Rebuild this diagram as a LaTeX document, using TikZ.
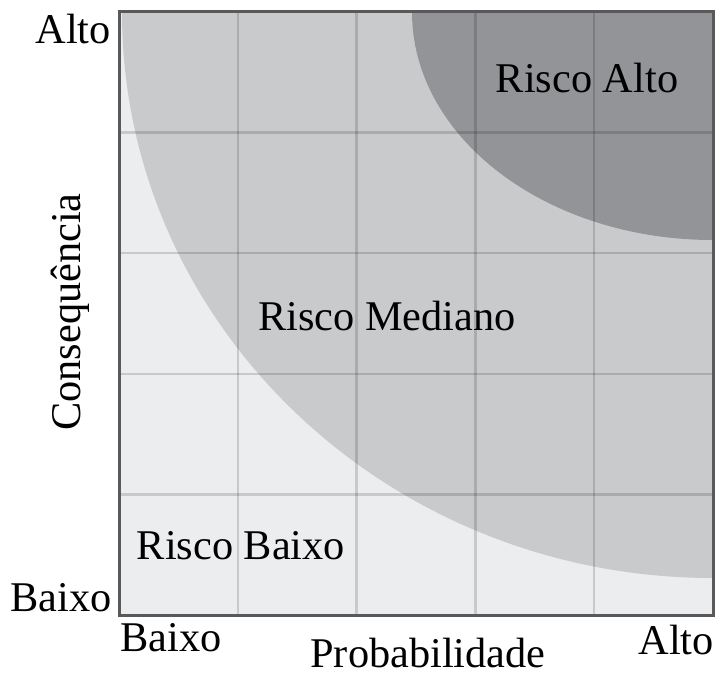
\documentclass[tikz,border=0pt]{standalone}
\usepackage{fontspec}
\setmainfont{Liberation Serif}
\definecolor{riscobaixo}{HTML}{ECEDEE}
\definecolor{riscomedio}{HTML}{C9CACC}
\definecolor{riscoalto}{HTML}{939497}
\definecolor{moldura}{HTML}{58595B}
\tikzset{
  rotulo/.style={font=\fontsize{42.5}{42.5}\selectfont, inner sep=0pt},
  grade/.style={black, opacity=0.15, line width=2.5bp}
}
\begin{document}
\begin{tikzpicture}[x=1bp,y=-1bp]
	\useasboundingbox (0,0) rectangle (720,675);
	% regioes de risco
	\begin{scope}
		\clip (119,12) rectangle (713,615);
		\fill[riscobaixo] (119,12) rectangle (713,615);
		\fill[riscomedio] (713,12) ellipse [x radius=591, y radius=566];
		\fill[riscoalto] (713,12) ellipse [x radius=301, y radius=228];
	\end{scope}
	% grade 5x5
	\foreach \i in {1,...,4}{
		\draw[grade] ({119+118.8*\i},12) -- ({119+118.8*\i},615);
		\draw[grade] (119,{12+120.6*\i}) -- (713,{12+120.6*\i});
	}
	\draw[moldura,line width=3bp] (119,12) rectangle (713,615);
	% eixos
	\node[rotulo,anchor=base east] (cAlto) at (111,44) {Alto};
	\node[rotulo,anchor=base east] (cBaixo) at (112,611) {Baixo};
	\node[rotulo,anchor=base west] (pBaixo) at (120,651) {Baixo};
	\node[rotulo,anchor=base east] (pAlto) at (714,654) {Alto};
	\node[rotulo,anchor=base] (prob) at (428,667) {Probabilidade};
	\node[rotulo,anchor=base,rotate=90] (cons) at (80,312) {Consequência};
	% zonas
	\node[rotulo,anchor=base] (rAlto) at (587,93) {Risco Alto};
	\node[rotulo,anchor=base] (rMediano) at (387,330) {Risco Mediano};
	\node[rotulo,anchor=base] (rBaixo) at (241,559) {Risco Baixo};
\end{tikzpicture}
\end{document}
